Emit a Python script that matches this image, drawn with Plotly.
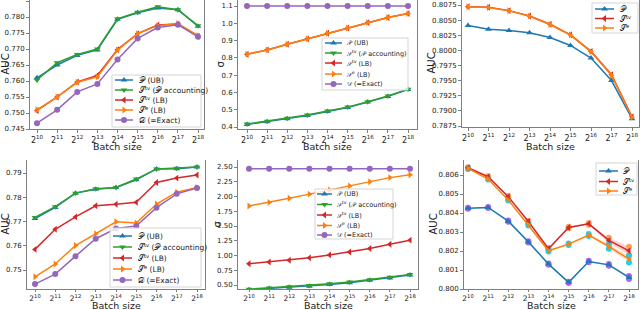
import plotly.graph_objects as go

# ---------------- data ----------------
batch_exp = [10, 11, 12, 13, 14, 15, 16, 17, 18]
x_tick_labels = ["2<sup>10</sup>", "2<sup>11</sup>", "2<sup>12</sup>", "2<sup>13</sup>", "2<sup>14</sup>",
                 "2<sup>15</sup>", "2<sup>16</sup>", "2<sup>17</sup>", "2<sup>18</sup>"]

# top-left (AUC)
tl_P = [0.7610, 0.7650, 0.7680, 0.7697, 0.7793, 0.7813, 0.7828, 0.7823, 0.7771]
tl_Stv_P = [0.7603, 0.7657, 0.7683, 0.7700, 0.7794, 0.7815, 0.7832, 0.7823, 0.7773]
tl_Stv = [0.7508, 0.7550, 0.7597, 0.7617, 0.7698, 0.7748, 0.7775, 0.7778, 0.7740]
tl_Se = [0.7510, 0.7550, 0.7596, 0.7613, 0.7697, 0.7748, 0.7773, 0.7780, 0.7742]
tl_D = [0.7468, 0.7510, 0.7566, 0.7591, 0.7667, 0.7733, 0.7767, 0.7776, 0.7738]

# top-middle (sigma)
tm_P = [0.415, 0.431, 0.448, 0.467, 0.490, 0.513, 0.544, 0.577, 0.617]
tm_Stv_P = [0.417, 0.433, 0.450, 0.469, 0.492, 0.515, 0.546, 0.579, 0.619]
tm_Stv = [0.821, 0.846, 0.879, 0.910, 0.942, 0.973, 1.004, 1.033, 1.056]
tm_Se = [0.821, 0.846, 0.879, 0.910, 0.942, 0.973, 1.004, 1.033, 1.056]
tm_D = [1.10, 1.10, 1.10, 1.10, 1.10, 1.10, 1.10, 1.10, 1.10]

# top-right (AUC)
tr_P = [0.80410, 0.80350, 0.80328, 0.80290, 0.80213, 0.80081, 0.79873, 0.79501, 0.78870]
tr_Stv = [0.80723, 0.80712, 0.80657, 0.80569, 0.80432, 0.80257, 0.79983, 0.79599, 0.78903]
tr_Se = [0.80721, 0.80710, 0.80655, 0.80566, 0.80428, 0.80253, 0.79978, 0.79590, 0.78895]

# bottom-left (AUC)
bl_P = [0.7712, 0.7758, 0.7817, 0.7833, 0.7840, 0.7872, 0.7917, 0.7918, 0.7925]
bl_Stv_P = [0.7717, 0.7761, 0.7817, 0.7835, 0.7840, 0.7875, 0.7917, 0.7920, 0.7925]
bl_Stv = [0.7585, 0.7668, 0.7719, 0.7765, 0.7771, 0.7779, 0.7861, 0.7879, 0.7892]
bl_Se = [0.7472, 0.7525, 0.7601, 0.7650, 0.7699, 0.7694, 0.7772, 0.7821, 0.7840]
bl_D = [0.7442, 0.7483, 0.7557, 0.7629, 0.7671, 0.7681, 0.7757, 0.7814, 0.7838]

# bottom-middle (sigma)
bm_P = [0.42, 0.44, 0.46, 0.48, 0.51, 0.54, 0.58, 0.62, 0.67]
bm_Stv_P = [0.43, 0.45, 0.47, 0.49, 0.52, 0.55, 0.59, 0.63, 0.68]
bm_Stv = [0.86, 0.89, 0.92, 0.96, 1.01, 1.06, 1.12, 1.19, 1.26]
bm_Se = [1.84, 1.90, 1.97, 2.04, 2.11, 2.18, 2.25, 2.32, 2.37]
bm_D = [2.47, 2.47, 2.47, 2.47, 2.47, 2.47, 2.47, 2.47, 2.47]

# bottom-right (AUC)
br_P = [0.80425, 0.80429, 0.80357, 0.80248, 0.80131, 0.80035, 0.80145, 0.80127, 0.80061]
br_Stv = [0.80638, 0.80591, 0.80486, 0.80355, 0.80212, 0.80324, 0.80343, 0.80256, 0.80201]
br_Se = [0.80635, 0.80579, 0.80469, 0.80338, 0.80201, 0.80236, 0.80284, 0.80224, 0.80157]
br_P_err = [0.00003, 0.00003, 0.00003, 0.00003, 0.00003, 0.00003, 0.00004, 0.00005, 0.00008]
br_Stv_err = [0.00003, 0.00003, 0.00003, 0.00004, 0.00004, 0.00004, 0.00005, 0.00014, 0.00022]
br_Se_err = [0.00003, 0.00003, 0.00003, 0.00004, 0.00004, 0.00004, 0.00005, 0.00012, 0.00018]

label_P_UB = "𝒫 (UB)"
label_Stv_P = "𝒮<sup>tv</sup> (𝒫 accounting)"
label_Stv_LB = "𝒮<sup>tv</sup> (LB)"
label_Se_LB = "𝒮<sup>e</sup> (LB)"
label_D = "𝒟 (=Exact)"
label_P = "𝒫"
label_Stv = "𝒮<sup>tv</sup>"
label_Se = "𝒮<sup>e</sup>"

# ---------------- style ----------------
W, H = 640, 310
BLUE, ORANGE, GREEN, RED, PURPLE = "#1f77b4", "#ff7f0e", "#2ca02c", "#d62728", "#9467bd"
FONT = "DejaVu Sans"
SPINE = "#7f7f7f"
TXT = "#222"

fig = go.Figure()


def px_dom_x(a, b):
    return [a / W, b / W]


def px_dom_y(top, bottom):
    return [1 - bottom / H, 1 - top / H]


def y_range(top, bottom, v1, p1, v2, p2):
    k = (v1 - v2) / (p2 - p1)
    return [v1 - (bottom - p1) * k, v1 + (p1 - top) * k]


def x_range(left, right, p10, p18):
    step = (p18 - p10) / 8
    return [10 - (p10 - left) / step, 18 + (right - p18) / step]


panels = [
    dict(k="", xd=(30, 204), yd=(0, 129), xm=(37, 198), yref=(0.785, 1, 0.745, 129),
         ticks=[0.745 + 0.005 * i for i in range(9)], fmt="{:.3f}", yt="AUC", ytx=5),
    dict(k="2", xd=(238, 417), yd=(0, 129), xm=(247, 408), yref=(1.1, 6, 0.4, 127),
         ticks=[0.4 + 0.1 * i for i in range(8)], fmt="{:.1f}", yt="σ", ytx=220),
    dict(k="3", xd=(462, 639), yd=(0, 127), xm=(468, 632), yref=(0.8075, 5, 0.7875, 126),
         ticks=[0.7875 + 0.0025 * i for i in range(9)], fmt="{:.4f}", yt="AUC", ytx=431),
    dict(k="4", xd=(27, 205), yd=(160, 289), xm=(35, 197), yref=(0.79, 173, 0.75, 270),
         ticks=[0.75 + 0.01 * i for i in range(5)], fmt="{:.2f}", yt="AUC", ytx=5),
    dict(k="5", xd=(238, 418), yd=(160, 289), xm=(249, 410), yref=(2.5, 167, 0.5, 285),
         ticks=[0.5 + 0.25 * i for i in range(9)], fmt="{:.2f}", yt="σ", ytx=217),
    dict(k="6", xd=(464, 638), yd=(160, 289), xm=(468, 629), yref=(0.806, 175, 0.800, 289),
         ticks=[0.800 + 0.001 * i for i in range(7)], fmt="{:.3f}", yt="AUC", ytx=433),
]

for p in panels:
    k = p["k"]
    top_row = p["yd"][0] == 0
    fig.layout["xaxis" + k] = dict(
        domain=px_dom_x(*p["xd"]), anchor="y" + k, automargin=False,
        range=x_range(p["xd"][0], p["xd"][1], *p["xm"]),
        tickvals=batch_exp, ticktext=x_tick_labels,
        showgrid=False, zeroline=False, showline=True, linecolor=SPINE, linewidth=1, mirror=False,
        ticks="outside", ticklen=3 if top_row else 2, tickcolor=SPINE,
        tickfont=dict(family=FONT, size=8 if top_row else 7.5, color=TXT),
    )
    fig.layout["yaxis" + k] = dict(
        domain=px_dom_y(*p["yd"]), anchor="x" + k, automargin=False,
        range=y_range(p["yd"][0], p["yd"][1], *p["yref"]),
        tickvals=p["ticks"], ticktext=[p["fmt"].format(t) for t in p["ticks"]],
        showgrid=False, zeroline=False, showline=True, linecolor=SPINE, linewidth=1, mirror=True,
        ticks="outside", ticklen=3, tickcolor=SPINE, tickfont=dict(family=FONT, size=7, color=TXT),
    )
    xc = (p["xd"][0] + p["xd"][1]) / 2
    xy = 146 if top_row else 305.5
    fig.add_annotation(text="Batch size", x=xc / W, y=1 - xy / H, xref="paper", yref="paper",
                       showarrow=False, font=dict(family=FONT, size=9.5, color=TXT),
                       xanchor="center", yanchor="middle")
    yc = (p["yd"][0] + p["yd"][1]) / 2
    fig.add_annotation(text=p["yt"], x=p["ytx"] / W, y=1 - yc / H, xref="paper", yref="paper",
                       showarrow=False, textangle=-90, font=dict(family=FONT, size=10, color=TXT),
                       xanchor="center", yanchor="middle")


def add_line(k, y, color, symbol):
    fig.add_trace(go.Scatter(
        x=batch_exp, y=y, mode="lines+markers", showlegend=False,
        line=dict(color=color, width=1.5),
        marker=dict(symbol=symbol, size=6, color=color),
        xaxis="x" + k, yaxis="y" + k,
    ))


def add_band(k, y, err, color_rgba):
    up = [a + e for a, e in zip(y, err)]
    lo = [a - e for a, e in zip(y, err)]
    fig.add_trace(go.Scatter(x=batch_exp + batch_exp[::-1], y=up + lo[::-1], fill="toself",
                             fillcolor=color_rgba, line=dict(width=0), hoverinfo="skip",
                             showlegend=False, xaxis="x" + k, yaxis="y" + k))


five = [(label_P_UB, BLUE, "triangle-up"), (label_Stv_P, GREEN, "triangle-down"),
        (label_Stv_LB, RED, "triangle-left"), (label_Se_LB, ORANGE, "triangle-right"),
        (label_D, PURPLE, "circle")]
three = [(label_P, BLUE, "triangle-up"), (label_Stv, RED, "triangle-left"), (label_Se, ORANGE, "triangle-right")]

for ys, k in [((tl_P, tl_Stv_P, tl_Stv, tl_Se, tl_D), ""),
              ((tm_P, tm_Stv_P, tm_Stv, tm_Se, tm_D), "2"),
              ((bl_P, bl_Stv_P, bl_Stv, bl_Se, bl_D), "4"),
              ((bm_P, bm_Stv_P, bm_Stv, bm_Se, bm_D), "5")]:
    for y, (nm, c, s) in zip(ys, five):
        add_line(k, y, c, s)

for y, (nm, c, s) in zip((tr_P, tr_Stv, tr_Se), three):
    add_line("3", y, c, s)

add_band("6", br_P, br_P_err, "rgba(31,119,180,0.2)")
add_band("6", br_Stv, br_Stv_err, "rgba(214,39,40,0.2)")
add_band("6", br_Se, br_Se_err, "rgba(255,127,14,0.2)")
for y, (nm, c, s) in zip((br_P, br_Stv, br_Se), three):
    add_line("6", y, c, s)

# ---------------- hand-drawn legends on a full-figure overlay axis (pixel coordinates) ----------------
fig.layout["xaxis7"] = dict(domain=[0, 1], range=[0, W], visible=False, anchor="y7",
                            fixedrange=True, automargin=False)
fig.layout["yaxis7"] = dict(domain=[0, 1], range=[H, 0], visible=False, anchor="x7",
                            fixedrange=True, automargin=False)

legends = [
    dict(box=(112, 75, 201, 127), rows=[80, 90, 100, 110, 120], h=(115, 133), tx=137, items=five, fs=7.5),
    dict(box=(322, 38, 408, 90), rows=[43, 53, 63, 74, 84], h=(325, 342), tx=345, items=five, fs=6.5),
    dict(box=(592, 3, 638, 33), rows=[9, 18.5, 28], h=(595, 614), tx=618, items=three, fs=7.5),
    dict(box=(110, 228, 201, 287), rows=[236, 247, 258, 269, 280], h=(113, 132), tx=136, items=five, fs=7.5),
    dict(box=(315, 189, 393, 239), rows=[194, 204.5, 215, 225.5, 235], h=(317, 332), tx=335, items=five, fs=6.5),
    dict(box=(596, 163, 637, 195), rows=[171, 181.5, 191], h=(599, 618), tx=621, items=three, fs=7.5),
]

for lg in legends:
    x0, y0, x1, y1 = lg["box"]
    fig.add_trace(go.Scatter(x=[x0, x1, x1, x0, x0], y=[y0, y0, y1, y1, y0], fill="toself",
                             fillcolor="rgba(255,255,255,0.8)", mode="lines",
                             line=dict(color="#d5d5d5", width=1), hoverinfo="skip",
                             showlegend=False, xaxis="x7", yaxis="y7"))
    for ry, (nm, c, s) in zip(lg["rows"], lg["items"]):
        ha, hb = lg["h"]
        fig.add_trace(go.Scatter(x=[ha, (ha + hb) / 2, hb], y=[ry, ry, ry], mode="lines",
                                 line=dict(color=c, width=1.5), hoverinfo="skip",
                                 showlegend=False, xaxis="x7", yaxis="y7"))
        fig.add_trace(go.Scatter(x=[(ha + hb) / 2], y=[ry], mode="markers",
                                 marker=dict(symbol=s, size=6, color=c), hoverinfo="skip",
                                 showlegend=False, xaxis="x7", yaxis="y7"))
        fig.add_annotation(text=nm, x=lg["tx"], y=ry, xref="x7", yref="y7", showarrow=False,
                           xanchor="left", yanchor="middle",
                           font=dict(family=FONT, size=lg["fs"], color=TXT))

fig.update_layout(
    width=W, height=H, margin=dict(l=0, r=0, t=0, b=0, autoexpand=False),
    paper_bgcolor="white", plot_bgcolor="rgba(0,0,0,0)", showlegend=False,
)

fig.write_html("out.html", config={"displayModeBar": False},
               post_script="document.body.style.margin='0';document.body.style.padding='0';"
                           "document.documentElement.style.overflow='hidden';")
